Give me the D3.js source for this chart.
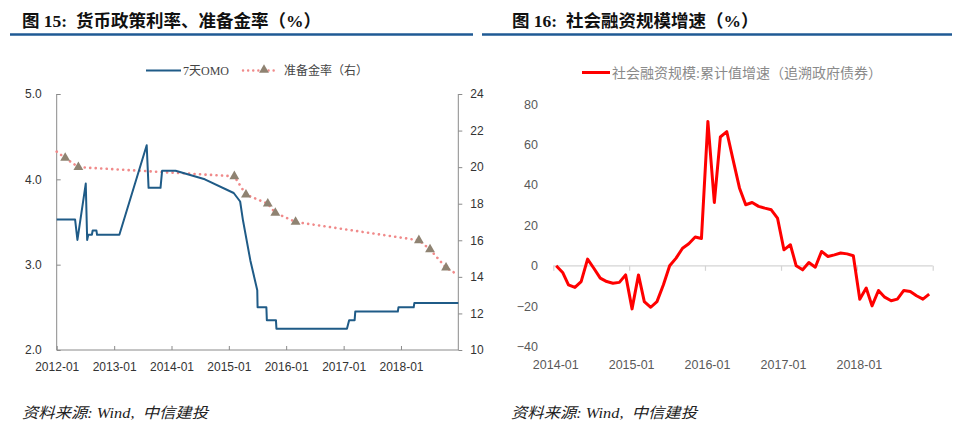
<!DOCTYPE html>
<html><head><meta charset="utf-8">
<script src="https://cdn.jsdelivr.net/npm/d3@7"></script>
<style>
html,body{margin:0;padding:0;background:#fff;}
svg{display:block;}
text{white-space:pre;}
</style></head>
<body>
<svg id="c" width="960" height="436"></svg>
<script>
// ---------- DATA ----------
// Figure 15: 7-day OMO rate (left axis, %)
const omoDates = ["2012-01-01","2012-04-27","2012-05-12","2012-07-04","2012-07-13","2012-07-20","2012-08-12","2012-08-17","2012-09-10","2012-09-14","2013-02-03","2013-07-27","2013-08-08","2013-10-23","2013-11-02","2014-01-27","2014-08-01","2015-02-01","2015-03-14","2015-04-01","2015-05-18","2015-07-01","2015-07-03","2015-08-28","2015-08-31","2015-10-28","2015-10-31","2017-01-22","2017-02-05","2017-03-12","2017-03-16","2017-12-12","2017-12-16","2018-03-23","2018-03-27","2019-01-01"];
const omoValues = [3.53,3.53,3.29,3.95,3.29,3.35,3.35,3.40,3.40,3.35,3.35,4.40,3.90,3.90,4.10,4.10,4.00,3.84,3.74,3.52,3.05,2.70,2.50,2.50,2.35,2.35,2.25,2.25,2.35,2.35,2.45,2.45,2.50,2.50,2.55,2.55];
// Reserve requirement ratio (right axis, %)
const rrrDates  = ["2012-01-01","2012-02-24","2012-05-18","2015-02-05","2015-04-20","2015-09-06","2015-10-24","2016-03-01","2018-04-25","2018-07-05","2018-10-15","2019-01-01"];
const rrrValues = [20.85,20.5,20.0,19.5,18.5,18.0,17.5,17.0,16.0,15.5,14.5,14.1];
const rrrMarker = [false,true,true,true,true,true,true,true,true,true,true,false];
const leftTicks  = [2.0,3.0,4.0,5.0];
const rightTicks = [10,12,14,16,18,20,22,24];
const yearTicks15 = ["2012-01","2013-01","2014-01","2015-01","2016-01","2017-01","2018-01"];

// Figure 16: Social financing growth (cumulative, %)
const tsfMonths = ["2014-01","2014-02","2014-03","2014-04","2014-05","2014-06","2014-07","2014-08","2014-09","2014-10","2014-11","2014-12",
"2015-01","2015-02","2015-03","2015-04","2015-05","2015-06","2015-07","2015-08","2015-09","2015-10","2015-11","2015-12",
"2016-01","2016-02","2016-03","2016-04","2016-05","2016-06","2016-07","2016-08","2016-09","2016-10","2016-11","2016-12",
"2017-01","2017-02","2017-03","2017-04","2017-05","2017-06","2017-07","2017-08","2017-09","2017-10","2017-11","2017-12",
"2018-01","2018-02","2018-03","2018-04","2018-05","2018-06","2018-07","2018-08","2018-09","2018-10","2018-11","2018-12"];
const tsfValues = [0,-3.3,-9.4,-10.7,-7.8,3.3,-1.2,-6.1,-7.8,-8.6,-8.2,-4.5,
-21.3,-4.5,-17.7,-20.5,-17.7,-9.4,0,3.8,8.7,10.9,14.2,13.5,
71.4,31.3,63.7,66.3,52.5,38.5,30.2,31.3,29.4,28.5,27.7,23.6,
7.9,10.4,0,-2,1.6,-0.7,7.1,4.6,5.4,6.3,5.9,5.0,
-16.5,-11,-19.8,-12.2,-15.5,-17.3,-16.5,-12.2,-12.7,-14.8,-16.5,-14];
const tsfTicks = [-40,-20,0,20,40,60,80];
const yearTicks16 = ["2014-01","2015-01","2016-01","2017-01","2018-01"];

const title15 = "图 15:  货币政策利率、准备金率（%）";
const title16 = "图 16:  社会融资规模增速（%）";
const legendOmo = "7天OMO";
const legendRrr = "准备金率（右）";
const legendTsf = "社会融资规模:累计值增速（追溯政府债券）";
const source = "资料来源: Wind,  中信建投";

// ---------- DRAW ----------
const svg = d3.select("#c");
const pd = d3.timeParse("%Y-%m-%d");
const pm = d3.timeParse("%Y-%m");
const CJK = "'Liberation Serif','Noto Sans CJK SC',serif";
const SANS = "'Liberation Sans',Arial,'Noto Sans CJK SC',sans-serif";

// titles
function header(x0, x1, tx, text){
  svg.append("text").attr("x", tx).attr("y", 26.5).text(text)
    .attr("font-family", CJK).attr("font-weight", "bold").attr("font-size", 17.5).attr("fill", "#111");
  svg.append("line").attr("x1", x0).attr("x2", x1).attr("y1", 34.5).attr("y2", 34.5)
    .attr("stroke", "#1f5a94").attr("stroke-width", 2.5);
}
header(10, 473, 22, title15);
header(482, 952, 512, title16);

// footers
[[22, source],[511, source]].forEach(([x,t])=>{
  svg.append("text").attr("x", x).attr("y", 418).text(t)
    .attr("font-family", CJK).attr("font-style", "italic").attr("font-size", 15).attr("fill", "#222")
    .attr("textLength", 186).attr("lengthAdjust", "spacingAndGlyphs");
});

// ---- Figure 15 ----
const x15 = d3.scaleTime().domain([pd("2012-01-01"), pd("2019-01-01")]).range([56.7, 458.3]);
const yL = d3.scaleLinear().domain([2, 5]).range([350, 94]);
const yR = d3.scaleLinear().domain([10, 24]).range([350, 94]);
const axisColor = "#8a8a8a";

const g15 = svg.append("g");
// x axis
const xAx = g15.append("g").attr("transform", "translate(0,350)")
  .call(d3.axisBottom(x15).tickValues(yearTicks15.map(pm)).tickSize(-4).tickFormat(d3.timeFormat("%Y-%m")));
xAx.select(".domain").attr("stroke", axisColor).attr("d", `M${x15.range()[0]},0H${x15.range()[1]}`);
xAx.selectAll(".tick line").attr("stroke", axisColor);
xAx.selectAll(".tick text").attr("y", 12).attr("font-family", SANS).attr("font-size", 12).attr("fill", "#333");

// left axis (ticks pointing right)
const lAx = g15.append("g").attr("transform", "translate(56.7,0)")
  .call(d3.axisRight(yL).tickValues(leftTicks).tickSize(4).tickFormat(d3.format(".1f")));
lAx.select(".domain").attr("stroke", axisColor).attr("d", `M0,${yL(5)}V${yL(2)}`);
lAx.selectAll(".tick line").attr("stroke", axisColor);
lAx.selectAll(".tick text").attr("x", -15).attr("text-anchor", "end")
  .attr("font-family", SANS).attr("font-size", 12).attr("fill", "#333");

// right axis
const rAx = g15.append("g").attr("transform", "translate(458.3,0)")
  .call(d3.axisRight(yR).tickValues(rightTicks).tickSize(4).tickFormat(d3.format("d")));
rAx.select(".domain").attr("stroke", axisColor).attr("d", `M0,${yR(24)}V${yR(10)}`);
rAx.selectAll(".tick line").attr("stroke", axisColor);
rAx.selectAll(".tick text").attr("x", 12).attr("font-family", SANS).attr("font-size", 12).attr("fill", "#333");

// RRR dotted line
const rrr = rrrDates.map((d,i)=>({d:pd(d), v:rrrValues[i], m:rrrMarker[i]}));
const rrrColor = "#f08a8a";
g15.append("path").datum(rrr)
  .attr("d", d3.line().x(d=>x15(d.d)).y(d=>yR(d.v)))
  .attr("fill", "none").attr("stroke", rrrColor).attr("stroke-width", 2.6)
  .attr("stroke-dasharray", "0.1,5.4").attr("stroke-linecap", "round");

// OMO line
const omo = omoDates.map((d,i)=>({d:pd(d), v:omoValues[i]}));
g15.append("path").datum(omo)
  .attr("d", d3.line().x(d=>x15(d.d)).y(d=>yL(d.v)))
  .attr("fill", "none").attr("stroke", "#1f5b87").attr("stroke-width", 2).attr("stroke-linejoin", "round");

// RRR markers
const tri = d3.symbol().type(d3.symbolTriangle).size(42);
g15.selectAll(".rm").data(rrr.filter(d=>d.m)).enter().append("path")
  .attr("transform", d=>`translate(${x15(d.d)},${yR(d.v)})`)
  .attr("d", tri).attr("fill", "#8f8372");

// legend 15
g15.append("line").attr("x1", 146).attr("x2", 181).attr("y1", 70.5).attr("y2", 70.5)
  .attr("stroke", "#1f5b87").attr("stroke-width", 2);
g15.append("text").attr("x", 183).attr("y", 75).text(legendOmo)
  .attr("font-family", CJK).attr("font-size", 12).attr("fill", "#444");
g15.append("line").attr("x1", 243).attr("x2", 276).attr("y1", 70.5).attr("y2", 70.5)
  .attr("stroke", rrrColor).attr("stroke-width", 2.4).attr("stroke-dasharray", "0.1,5").attr("stroke-linecap", "round");
g15.append("path").attr("transform", "translate(264,70)").attr("d", tri).attr("fill", "#8f8372");
g15.append("text").attr("x", 284).attr("y", 75).text(legendRrr)
  .attr("font-family", CJK).attr("font-size", 12).attr("fill", "#444");

// ---- Figure 16 ----
const x16 = d3.scaleTime().domain([pd("2014-01-01"), pd("2019-01-01")]).range([553.3, 932.7]);
const y16 = d3.scaleLinear().domain([-40, 80]).range([346.7, 104]);
const g16 = svg.append("g");
const zeroColor = "#d4d4d4";

// zero line axis with downward ticks
const zAx = g16.append("g").attr("transform", `translate(0,${y16(0)})`)
  .call(d3.axisBottom(x16).tickValues(yearTicks16.map(pm).concat([pd("2019-01-01")])).tickSize(5).tickFormat(""));
zAx.select(".domain").attr("stroke", zeroColor).attr("stroke-width", 1.2).attr("d", `M${x16.range()[0]},0H${x16.range()[1]}`);
zAx.selectAll(".tick line").attr("stroke", zeroColor).attr("stroke-width", 1.2);

// x labels at bottom
const xl = g16.append("g").attr("transform", "translate(0,358)")
  .call(d3.axisBottom(x16).tickValues(yearTicks16.map(pm)).tickSize(0).tickFormat(d3.timeFormat("%Y-%m")));
xl.select(".domain").remove();
xl.selectAll(".tick text").attr("dx", 2).attr("y", 2).attr("font-family", SANS).attr("font-size", 12.5).attr("fill", "#595959");

// y labels
const yl = g16.append("g").attr("transform", "translate(538,0)")
  .call(d3.axisLeft(y16).tickValues(tsfTicks).tickSize(0).tickFormat(d3.format("d")));
yl.select(".domain").remove();
yl.selectAll(".tick text").attr("x", 0).attr("font-family", SANS).attr("font-size", 12.5).attr("fill", "#595959");

// red line
const tsf = tsfMonths.map((m,i)=>({d:d3.timeDay.offset(pm(m), 14), v:tsfValues[i]}));
g16.append("path").datum(tsf)
  .attr("d", d3.line().x(d=>x16(d.d)).y(d=>y16(d.v)))
  .attr("fill", "none").attr("stroke", "#ff0000").attr("stroke-width", 3).attr("stroke-linejoin", "round");

// legend 16
g16.append("line").attr("x1", 582).attr("x2", 610).attr("y1", 72.5).attr("y2", 72.5)
  .attr("stroke", "#ff0000").attr("stroke-width", 3);
g16.append("text").attr("x", 612).attr("y", 77.5).text(legendTsf)
  .attr("font-family", CJK).attr("font-size", 14).attr("fill", "#8a8a8a");
</script>
</body></html>
